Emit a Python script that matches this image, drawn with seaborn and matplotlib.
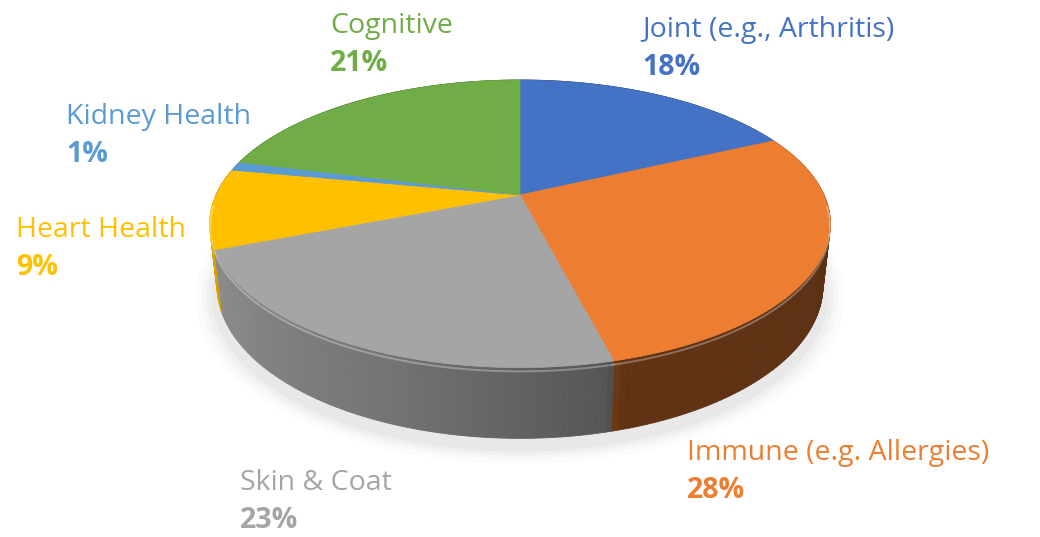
import numpy as np
import matplotlib
matplotlib.use('Agg')
import matplotlib.pyplot as plt
from matplotlib.patches import Polygon
import seaborn as sns

# 데이터 (값은 그림에서 읽음)
categories = ['Joint (e.g., Arthritis)', 'Immune (e.g. Allergies)', 'Skin & Coat',
              'Heart Health', 'Kidney Health', 'Cognitive']
values = [18, 28, 23, 9, 1, 21]
colors = ['#4472C4', '#ED7D31', '#A5A5A5', '#FFC000', '#5B9BD5', '#70AD47']

# 레이블 위치 (첫 줄 baseline, 픽셀)
label_pos = [(642, 37), (687, 460), (240, 490), (16, 237), (66, 124), (330, 33)]

sns.set_theme(style='white')
plt.rcParams['font.family'] = ['Open Sans', 'DejaVu Sans']

# 3D 투영 설정
cx, cy = 520, 195
focal = 1353
dist = 4.45
elev = np.radians(27)
depth = 0.23
se, ce = np.sin(elev), np.cos(elev)


def proj(r, phi, z):
    x = r * np.cos(phi)
    y = r * np.sin(phi)
    u = y * se + z * ce
    d = dist + y * ce - z * se
    return cx + focal * x / d, cy - focal * u / d


def shade(hex_color, k):
    rgb = np.array(matplotlib.colors.to_rgb(hex_color))
    return tuple(np.clip(rgb * k, 0, 1))


def wall_factor(phi_deg):
    return np.interp(phi_deg, [-180, -150, -110, -77, -74, 0],
                     [0.88, 0.83, 0.70, 0.52, 0.41, 0.38])


fig = plt.figure(figsize=(10.4, 5.37), dpi=100)
ax = fig.add_axes([0, 0, 1, 1])
ax.set_xlim(0, 1040)
ax.set_ylim(537, 0)
ax.axis('off')

# 조각 각도 (12시 방향부터 시계방향)
cum = np.concatenate([[0], np.cumsum(values)]) / sum(values)
starts = 90 - 360 * cum[:-1]
ends = 90 - 360 * cum[1:]

# 그림자
full = np.radians(np.linspace(0, 360, 200))
for rr, a in zip([1.07, 1.05, 1.035, 1.02], [0.03, 0.04, 0.05, 0.07]):
    px, py = proj(rr, full, -depth - 0.02)
    ax.add_patch(Polygon(np.column_stack([px, py + 3]), closed=True,
                         facecolor='#888888', alpha=a, edgecolor='none', zorder=1))

# 옆면 (뒤에서 앞으로)
segs = []
for s, e, col in zip(starts, ends, colors):
    n = max(int(abs(s - e)), 1)
    angs = np.linspace(s, e, n + 1)
    for a0, a1 in zip(angs[:-1], angs[1:]):
        mid = (a0 + a1) / 2
        segs.append((np.sin(np.radians(mid)), a0, a1, mid, col))
segs.sort(key=lambda t: -t[0])
for _, a0, a1, mid, col in segs:
    p0, p1 = np.radians(a0), np.radians(a1)
    x0, y0 = proj(1, p0, 0)
    x1, y1 = proj(1, p1, 0)
    x2, y2 = proj(1, p1, -depth)
    x3, y3 = proj(1, p0, -depth)
    c = shade(col, wall_factor(((mid + 180) % 360) - 180))
    ax.add_patch(Polygon([(x0, y0), (x1, y1), (x2, y2), (x3, y3)], closed=True,
                         facecolor=c, edgecolor=c, linewidth=0.6, zorder=2))

# 윗면
ax0, ay0 = proj(0, 0, 0)
for s, e, col in zip(starts, ends, colors):
    angs = np.radians(np.linspace(s, e, 120))
    px, py = proj(1, angs, 0)
    pts = np.vstack([[ax0, ay0], np.column_stack([px, py])])
    ax.add_patch(Polygon(pts, closed=True, facecolor=col, edgecolor=col,
                         linewidth=0.5, zorder=3))
    # 앞쪽 테두리 하이라이트
    front = angs[np.sin(angs) < -0.05]
    if len(front) > 1:
        hx, hy = proj(1, front, -0.012)
        ax.plot(hx, hy, color='white', alpha=0.3, linewidth=1.4, zorder=4)

# 레이블
for name, v, col, (lx, ly) in zip(categories, values, colors, label_pos):
    ax.text(lx, ly, name, color=col, fontsize=20.5, ha='left', va='baseline', zorder=5)
    ax.text(lx, ly + 38, f'{v}%', color=col, fontsize=20.5, fontweight='bold',
            ha='left', va='baseline', zorder=5)

fig.savefig('out.png', dpi=100)
